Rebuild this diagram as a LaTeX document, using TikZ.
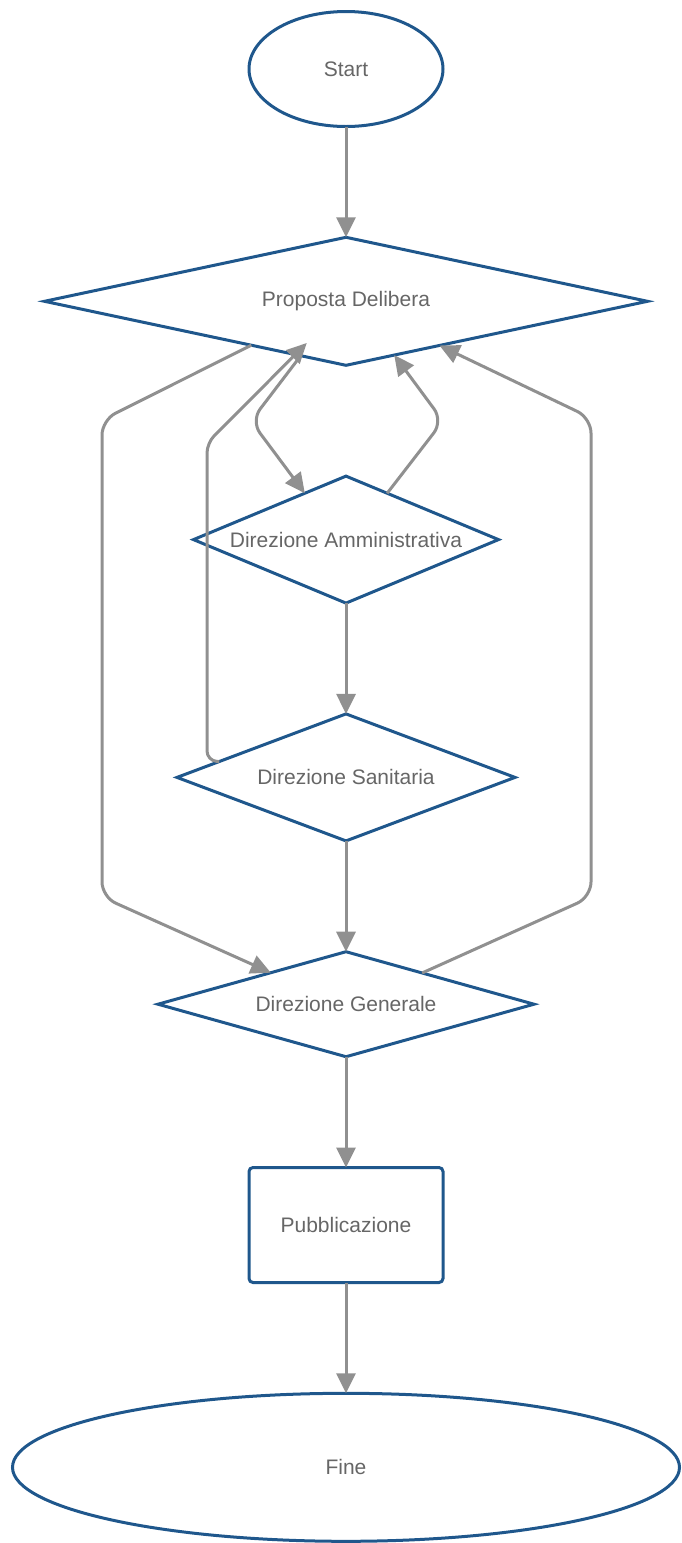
\documentclass[tikz,border=0pt]{standalone}
\usepackage{fontspec}
\setmainfont{Liberation Sans}
\usetikzlibrary{arrows.meta,positioning,shapes.geometric,calc}
\definecolor{boxblue}{HTML}{1F578C}
\definecolor{flowgray}{HTML}{909090}
\definecolor{txtgray}{HTML}{666666}

\begin{document}
\begin{tikzpicture}[
  x=1pt, y=1pt,
  >={Triangle[length=20pt,width=19pt]},
  lbl/.style={font=\fontsize{21}{25}\selectfont, text=txtgray},
  every node/.style={lbl},
  term/.style={draw=boxblue, line width=3pt, ellipse, inner sep=0pt, outer sep=0pt},
  choice/.style={draw=boxblue, line width=3pt, diamond, aspect=2.5, inner sep=0pt, outer sep=0pt},
  task/.style={draw=boxblue, line width=3pt, rectangle, rounded corners=4pt, inner sep=0pt, outer sep=0pt},
  flow/.style={->, draw=flowgray, line width=3pt},
  node distance=110.8pt
]
\useasboundingbox (0,0) rectangle (682,-1543);

% Nodes of the flow
\node[term, minimum width=194pt, minimum height=115pt] (start) at (346,-69) {Start};
\node[choice, below=of start, minimum width=603pt, minimum height=128pt] (prop) {Proposta Delibera};
\node[choice, below=of prop, minimum width=305pt, minimum height=127pt] (amm) {Direzione Amministrativa};
\node[choice, below=of amm, minimum width=338pt, minimum height=127pt] (san) {Direzione Sanitaria};
\node[choice, below=of san, minimum width=376pt, minimum height=105pt] (gen) {Direzione Generale};
\node[task, below=of gen, minimum width=194pt, minimum height=115pt] (pub) {Pubblicazione};
\node[term, below=of pub, minimum width=667pt, minimum height=148pt] (fine) {Fine};

% Straight arrows down the middle
\draw[flow] (start) -- (prop);
\draw[flow] (amm) -- (san);
\draw[flow] (san) -- (gen);
\draw[flow] (gen) -- (pub);
\draw[flow] (pub) -- (fine);

% Points on the borders
\coordinate (sanTip) at ($(prop.west)!0.87!(prop.south)$);

% Proposta <-> Amministrativa
\draw[flow, rounded corners=15pt] ($(prop.west)!0.85!(prop.south)$) -- (251,-421)
  -- ($(amm.west)!0.73!(amm.north)$);
\draw[flow, rounded corners=15pt] ($(amm.north)!0.27!(amm.east)$) -- (443,-421)
  -- ($(prop.south)!0.16!(prop.east)$);

% Sanitaria back to Proposta
\draw[flow, rounded corners=10pt] ($(san.west)!0.25!(san.north)$) -- (207,-761)
  -- (207,-443) -- ($(sanTip)+(0,14)$);

% Outer loops
\draw[flow, rounded corners=15pt] ($(prop.west)!0.686!(prop.south)$) -- (102,-420)
  -- (102,-897) -- ($(gen.west)!0.6!(gen.north)$);
\draw[flow, rounded corners=15pt] ($(gen.north)!0.405!(gen.east)$) -- (591,-897)
  -- (591,-418) -- ($(prop.south)!0.31!(prop.east)$);

\end{tikzpicture}
\end{document}
